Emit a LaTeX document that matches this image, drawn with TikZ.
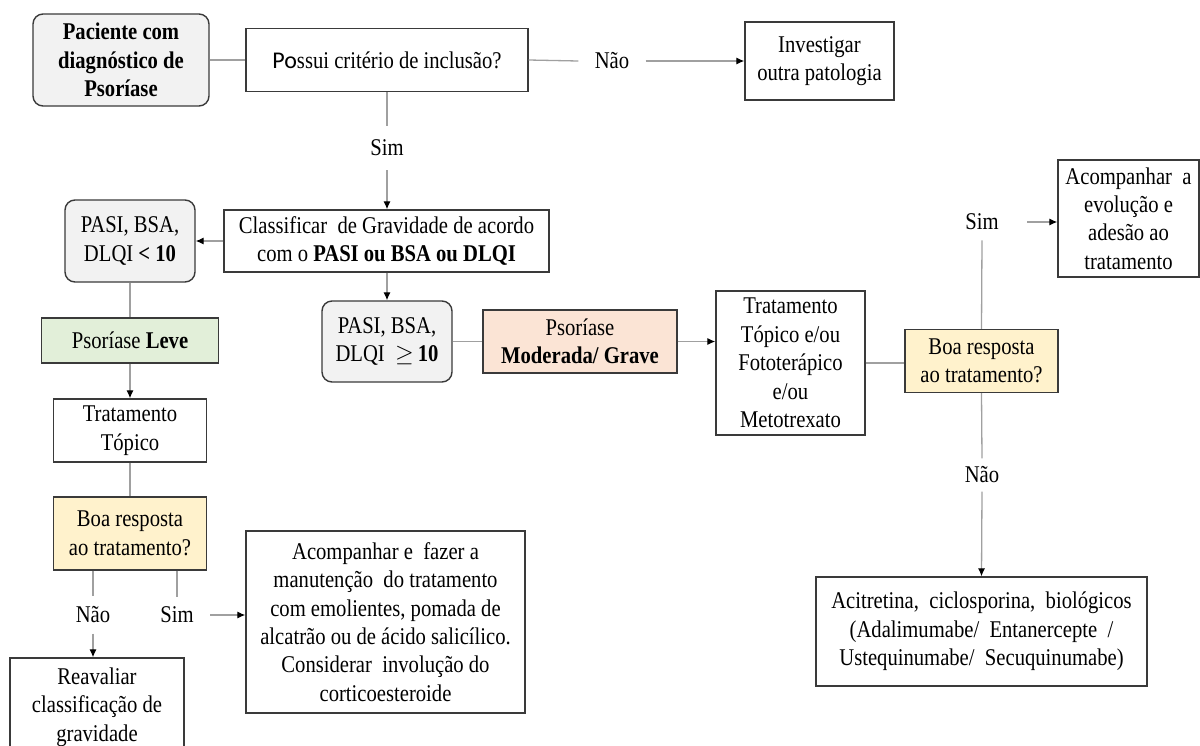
\documentclass[tikz,border=0pt]{standalone}
\usepackage{fontspec}
\setmainfont{Liberation Serif}[FakeStretch=0.86]
\newfontfamily\calibri{Carlito}
\usetikzlibrary{positioning,arrows.meta}

\definecolor{boxgray}{HTML}{F2F2F2}
\definecolor{leafgreen}{HTML}{E2EFD9}
\definecolor{peach}{HTML}{FBE4D5}
\definecolor{cream}{HTML}{FFF2CC}
\definecolor{edge}{HTML}{3A3A3A}
\definecolor{conn}{HTML}{A0A0A0}

\tikzset{
    box/.style={draw=edge, line width=0.7pt, align=center, inner sep=1pt,
        font=\fontsize{12}{14.2}\selectfont},
    roundbox/.style={box, rounded corners=5pt, fill=boxgray},
    lbl/.style={fill=white, inner xsep=8pt, inner ysep=5pt,
        font=\fontsize{12}{14.2}\selectfont},
    link/.style={draw=conn, line width=0.65pt},
    arr/.style={link, -{Latex[black,length=4pt,width=3.6pt]}}
}

\begin{document}
\begin{tikzpicture}[x=0.5pt, y=-0.5pt]
\useasboundingbox (0,0) rectangle (1200,745);

%Nodes
\node[roundbox, font=\fontsize{12}{14.2}\selectfont\bfseries,
      minimum width=88pt, minimum height=46pt]
      (paciente) at (121,60)    {Paciente com\\diagnóstico de\\Psoríase};
\node[box, minimum width=141pt, minimum height=31.5pt]
      (possui)   at (387,60)    {{\calibri Po}ssui critério de inclusão?};
\node[lbl]       (nao1)   at (612,61)   {Não};
\node[box, minimum width=74.5pt, minimum height=39pt]
      (invest)   at (819.5,61)  {Investigar\\outra patologia};
\node[lbl, inner ysep=7pt] (sim1) at (387,148) {Sim};
\node[box, minimum width=162.5pt, minimum height=31pt]
      (classif)  at (386.5,241) {Classificar \ de Gravidade de acordo\\com o \textbf{PASI ou BSA ou DLQI}};

% leve
\node[roundbox, minimum width=65pt, minimum height=41pt]
      (pasi1)    at (130,241)   {PASI, BSA,\\DLQI \textbf{< 10}};
\node[box, fill=leafgreen, minimum width=88.5pt, minimum height=22.5pt]
      (leve)     at (130,340.5) {Psoríase \textbf{Leve}};
\node[box, minimum width=76.5pt, minimum height=31.5pt]
      (topico)   at (130,430.5) {Tratamento\\Tópico};
\node[box, fill=cream, minimum width=76.5pt, minimum height=36.5pt]
      (boa1)     at (130,533.5) {Boa resposta\\ao tratamento?};
\node[lbl]       (nao2)   at (93,615)   {Não};
\node[lbl]       (sim2)   at (177,615)  {Sim};
\node[box, minimum width=87pt, minimum height=49pt]
      (reav)     at (97,707)    {Reavaliar\\classificação de\\gravidade};
\node[box, minimum width=139.5pt, minimum height=91pt]
      (manut)    at (385.5,622) {Acompanhar e \ fazer a\\manutenção \ do tratamento\\com emolientes, pomada de\\alcatrão ou de ácido salicílico.\\Considerar \ involução do\\corticoesteroide};

% moderada / grave
\node[roundbox, minimum width=65pt, minimum height=40.5pt]
      (pasi2)    at (387,341.5) {PASI, BSA,\\DLQI \ $\geq$\,\textbf{10}};
\node[box, fill=peach, minimum width=97pt, minimum height=31.5pt]
      (moder)    at (580,341.5) {Psoríase\\\textbf{Moderada/ Grave}};
\node[box, minimum width=74.5pt, minimum height=72pt]
      (topico2)  at (790.5,363) {Tratamento\\Tópico e/ou\\Fototerápico\\e/ou\\Metotrexato};
\node[box, fill=cream, minimum width=76.5pt, minimum height=31.5pt]
      (boa2)     at (981.5,361) {Boa resposta\\ao tratamento?};
\node[lbl, inner xsep=14pt] (sim3) at (982,222) {Sim};
\node[box, minimum width=70.5pt, minimum height=58.5pt]
      (evol)     at (1128.5,218.5) {Acompanhar \ a\\evolução e\\adesão ao\\tratamento};
\node[lbl, inner ysep=4pt] (nao3) at (982,475) {Não};
\node[box, minimum width=165.5pt, minimum height=54.5pt]
      (acit)     at (981.5,631.5) {Acitretina, \ ciclosporina, \ biológicos\\(Adalimumabe/ \ Entanercepte \ /\\Ustequinumabe/ \ Secuquinumabe)};

%Lines
\draw[link] (paciente.east) -- (possui.west);
\draw[link] (possui.east)   -- (nao1.west);
\draw[arr]  (nao1.east)     -- (invest.west);
\draw[link] (possui.south)  -- (sim1.north);
\draw[arr]  (sim1.south)    -- (sim1 |- classif.north);
\draw[arr]  (classif.west)  -- (pasi1.east);
\draw[arr]  (classif.south -| pasi2) -- (pasi2.north);

\draw[link] (pasi1.south)   -- (leve.north);
\draw[arr]  (leve.south)    -- (topico.north);
\draw[link] (topico.south)  -- (boa1.north);
\draw[link] (boa1.south -| nao2) -- (nao2.north);
\draw[arr]  (nao2.south)    -- (nao2 |- reav.north);
\draw[link] (boa1.south -| sim2) -- (sim2.north);
\draw[arr]  (sim2.east)     -- (sim2 -| manut.west);

\draw[link] (pasi2.east)    -- (moder.west);
\draw[arr]  (moder.east)    -- (moder -| topico2.west);
\draw[link] (topico2.east)  -- (topico2 -| boa2.west);
\draw[link] (boa2.north)    -- (sim3.south);
\draw[arr]  (sim3.east)     -- (sim3 -| evol.west);
\draw[link] (boa2.south)    -- (nao3.north);
\draw[arr]  (nao3.south)    -- (acit.north);
\end{tikzpicture}
\end{document}
